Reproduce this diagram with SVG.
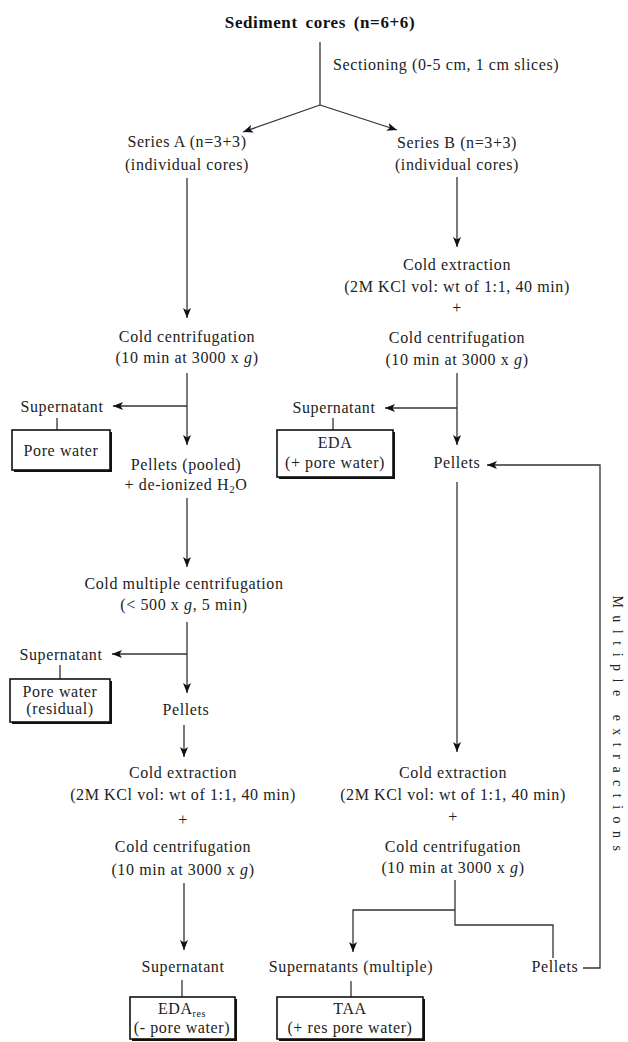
<svg xmlns="http://www.w3.org/2000/svg" width="628" height="1042" viewBox="0 0 628 1042">
<style>
.t{font-family:"Liberation Serif","Times New Roman",serif;font-size:16px;letter-spacing:0.6px;fill:#222;text-anchor:middle}
.s{text-anchor:start}
.b{font-weight:bold;font-size:17px;letter-spacing:0.6px;word-spacing:3px;fill:#111}
.i{font-style:italic}
.c{fill:none;stroke:#333;stroke-width:1.3}
.bx{fill:#fff;stroke:#111;stroke-width:1.6}
.sh{fill:#111}
.v{font-size:14px;letter-spacing:7.5px}
</style>
<defs>
<marker id="ah" viewBox="0 0 10 8" refX="10" refY="4" markerWidth="10" markerHeight="8" orient="auto" markerUnits="userSpaceOnUse">
<path d="M0,0 L10,4 L0,8 L2.5,4 z" fill="#111"/>
</marker>
</defs>

<g id="connectors">
<path class="c" d="M320,42 V105"/>
<path class="c" d="M320,105 L243,132" marker-end="url(#ah)"/>
<path class="c" d="M320,105 L397,130" marker-end="url(#ah)"/>
<path class="c" d="M187,178 V318" marker-end="url(#ah)"/>
<path class="c" d="M457,177 V247" marker-end="url(#ah)"/>
<path class="c" d="M187,373 V445" marker-end="url(#ah)"/>
<path class="c" d="M187,406 H113" marker-end="url(#ah)"/>
<path class="c" d="M57,418 V430"/>
<path class="c" d="M457,373 V445" marker-end="url(#ah)"/>
<path class="c" d="M457,408 H385" marker-end="url(#ah)"/>
<path class="c" d="M333,418 V430"/>
<path class="c" d="M187,498 V567" marker-end="url(#ah)"/>
<path class="c" d="M187,622 V693" marker-end="url(#ah)"/>
<path class="c" d="M187,654 H112" marker-end="url(#ah)"/>
<path class="c" d="M60,665 V679"/>
<path class="c" d="M184,725 V757" marker-end="url(#ah)"/>
<path class="c" d="M184,883 V950" marker-end="url(#ah)"/>
<path class="c" d="M182,980 V997"/>
<path class="c" d="M457,482 V752" marker-end="url(#ah)"/>
<path class="c" d="M455,880 V910"/>
<path class="c" d="M455,910 H353 V952" marker-end="url(#ah)"/>
<path class="c" d="M455,910 V925 H553 V958"/>
<path class="c" d="M351,981 V997"/>
<path class="c" d="M583,968 H600 V465 H487" marker-end="url(#ah)"/>
</g>

<g id="title"><text class="t b" x="320" y="28">Sediment cores (n=6+6)</text></g>
<g id="sectioning"><text class="t s" x="333" y="70">Sectioning (0-5 cm, 1 cm slices)</text></g>
<g id="seriesA"><text class="t" x="187" y="147">Series A (n=3+3)</text><text class="t" x="187" y="170">(individual cores)</text></g>
<g id="seriesB"><text class="t" x="457" y="148">Series B (n=3+3)</text><text class="t" x="457" y="170">(individual cores)</text></g>
<g id="A-centrifugation"><text class="t" x="187" y="342">Cold centrifugation</text><text class="t" x="187" y="363">(10 min at 3000 x <tspan class="i">g</tspan>)</text></g>
<g id="B-extraction1">
<text class="t" x="457" y="270">Cold extraction</text>
<text class="t" x="457" y="292">(2M KCl vol: wt of 1:1, 40 min)</text>
<text class="t" x="457" y="313">+</text>
<text class="t" x="457" y="343">Cold centrifugation</text>
<text class="t" x="457" y="365">(10 min at 3000 x <tspan class="i">g</tspan>)</text>
</g>
<g id="A-supernatant1"><text class="t" x="62" y="412">Supernatant</text></g>
<g id="pore-water"><rect class="sh" x="14" y="432" width="98" height="40"/><rect class="bx" x="12" y="430" width="98" height="40"/><text class="t" x="61" y="456">Pore water</text></g>
<g id="A-pellets-pooled"><text class="t" x="186" y="470">Pellets (pooled)</text><text class="t" x="186" y="490">+ de-ionized H<tspan font-size="11" dy="3">2</tspan><tspan dy="-3">O</tspan></text></g>
<g id="B-supernatant1"><text class="t" x="334" y="413">Supernatant</text></g>
<g id="EDA"><rect class="sh" x="279" y="432" width="116" height="47"/><rect class="bx" x="277" y="430" width="116" height="47"/><text class="t" x="335" y="448">EDA</text><text class="t" x="335" y="468">(+ pore water)</text></g>
<g id="B-pellets1"><text class="t" x="457" y="468">Pellets</text></g>
<g id="A-multiple"><text class="t" x="184" y="589">Cold multiple centrifugation</text><text class="t" x="184" y="610">(&lt; 500 x <tspan class="i">g</tspan>, 5 min)</text></g>
<g id="A-supernatant2"><text class="t" x="61" y="660">Supernatant</text></g>
<g id="pore-water-residual"><rect class="sh" x="12" y="681" width="100" height="43"/><rect class="bx" x="10" y="679" width="100" height="43"/><text class="t" x="60" y="697">Pore water</text><text class="t" x="60" y="714">(residual)</text></g>
<g id="A-pellets2"><text class="t" x="186" y="715">Pellets</text></g>
<g id="A-extraction">
<text class="t" x="183" y="778">Cold extraction</text>
<text class="t" x="183" y="800">(2M KCl vol: wt of 1:1, 40 min)</text>
<text class="t" x="183" y="825">+</text>
<text class="t" x="183" y="852">Cold centrifugation</text>
<text class="t" x="183" y="875">(10 min at 3000 x <tspan class="i">g</tspan>)</text>
</g>
<g id="B-extraction2">
<text class="t" x="453" y="778">Cold extraction</text>
<text class="t" x="453" y="800">(2M KCl vol: wt of 1:1, 40 min)</text>
<text class="t" x="453" y="822">+</text>
<text class="t" x="453" y="852">Cold centrifugation</text>
<text class="t" x="453" y="873">(10 min at 3000 x <tspan class="i">g</tspan>)</text>
</g>
<g id="A-supernatant3"><text class="t" x="183" y="972">Supernatant</text></g>
<g id="EDAres"><rect class="sh" x="132" y="999" width="105" height="42"/><rect class="bx" x="130" y="997" width="105" height="42"/><text class="t" x="182" y="1014">EDA<tspan font-size="10" dy="3">res</tspan></text><text class="t" x="182" y="1033">(- pore water)</text></g>
<g id="B-supernatants"><text class="t" x="351" y="972">Supernatants (multiple)</text></g>
<g id="TAA"><rect class="sh" x="279" y="999" width="146" height="42"/><rect class="bx" x="277" y="997" width="146" height="42"/><text class="t" x="350" y="1014">TAA</text><text class="t" x="350" y="1033">(+ res pore water)</text></g>
<g id="B-pellets2"><text class="t" x="555" y="972">Pellets</text></g>
<g id="multiple-extractions"><text class="t v" transform="translate(613,727) rotate(90)">Multiple extractions</text></g>
</svg>
